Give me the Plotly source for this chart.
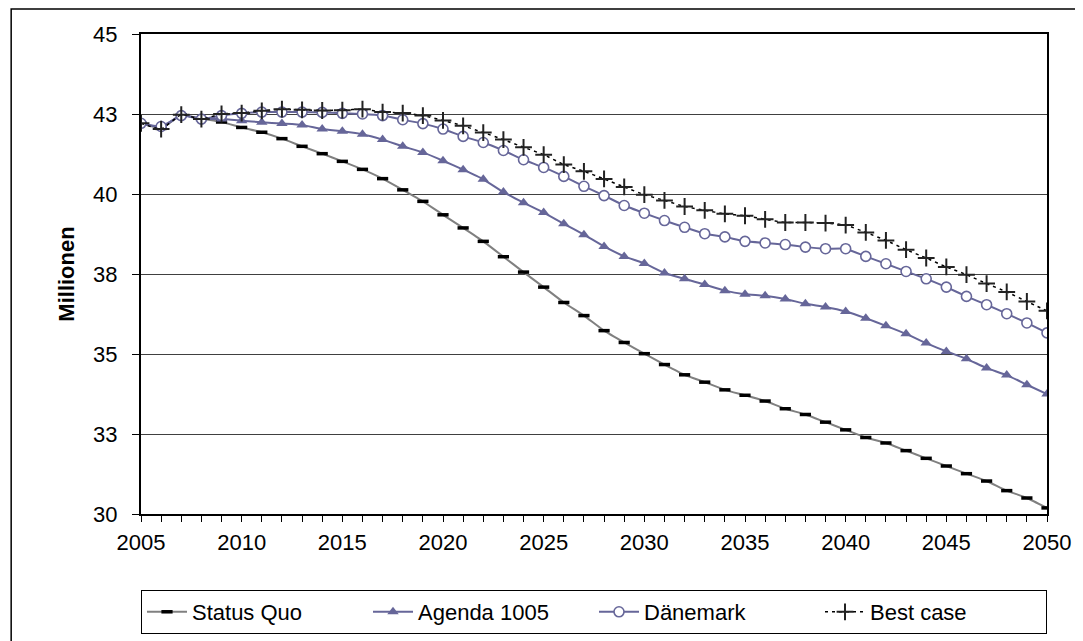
import plotly.graph_objects as go

years = list(range(2005, 2051))

status_quo = [42.21, 42.05, 42.47, 42.35, 42.25, 42.08, 41.93, 41.73, 41.49, 41.26,
              41.02, 40.77, 40.48, 40.13, 39.77, 39.35, 38.94, 38.52, 38.04, 37.56,
              37.09, 36.61, 36.20, 35.73, 35.36, 35.01, 34.67, 34.35, 34.12, 33.88,
              33.71, 33.53, 33.29, 33.11, 32.87, 32.63, 32.39, 32.22, 31.98, 31.74,
              31.50, 31.26, 31.03, 30.73, 30.50, 30.19]

agenda = [42.21, 42.08, 42.46, 42.35, 42.34, 42.29, 42.24, 42.20, 42.16, 42.03,
          41.96, 41.87, 41.70, 41.49, 41.30, 41.04, 40.76, 40.46, 40.06, 39.73,
          39.42, 39.07, 38.73, 38.36, 38.05, 37.83, 37.53, 37.35, 37.17, 36.98,
          36.87, 36.82, 36.72, 36.57, 36.47, 36.33, 36.12, 35.88, 35.63, 35.34,
          35.08, 34.85, 34.56, 34.34, 34.04, 33.75]

daenemark = [42.21, 42.11, 42.45, 42.34, 42.45, 42.52, 42.56, 42.56, 42.56, 42.55,
             42.52, 42.50, 42.45, 42.32, 42.20, 42.03, 41.80, 41.61, 41.36, 41.07,
             40.83, 40.55, 40.24, 39.95, 39.64, 39.40, 39.17, 38.96, 38.76, 38.66,
             38.52, 38.47, 38.42, 38.34, 38.29, 38.29, 38.05, 37.82, 37.58, 37.35,
             37.09, 36.80, 36.54, 36.26, 35.97, 35.66]

best_case = [42.21, 42.03, 42.48, 42.34, 42.50, 42.53, 42.60, 42.65, 42.63, 42.61,
             42.62, 42.65, 42.56, 42.53, 42.45, 42.30, 42.13, 41.92, 41.70, 41.46,
             41.23, 40.92, 40.71, 40.47, 40.22, 39.98, 39.80, 39.61, 39.49, 39.38,
             39.32, 39.21, 39.11, 39.11, 39.09, 39.03, 38.80, 38.55, 38.26, 38.00,
             37.72, 37.48, 37.20, 36.94, 36.64, 36.35]

y_tickvals = [30, 32.5, 35, 37.5, 40, 42.5, 45]
y_ticktext = ["30", "33", "35", "38", "40", "43", "45"]
x_ticktext = [str(y) if y % 5 == 0 else "" for y in years]

FONT = "Liberation Sans, Arial, sans-serif"
PURPLE = "#666699"

fig = go.Figure()
fig.add_trace(go.Scatter(
    x=years, y=status_quo, name="Status Quo", mode="lines+markers",
    line=dict(color="#808080", width=2, shape="spline", smoothing=0.4),
    marker=dict(symbol="line-ew", size=8, color="black",
                line=dict(color="black", width=3.5))))
fig.add_trace(go.Scatter(
    x=years, y=agenda, name="Agenda 1005", mode="lines+markers",
    line=dict(color=PURPLE, width=2, shape="spline", smoothing=0.4),
    marker=dict(symbol="triangle-up", size=10, color=PURPLE)))
fig.add_trace(go.Scatter(
    x=years, y=daenemark, name="Dänemark", mode="lines+markers",
    line=dict(color=PURPLE, width=2, shape="spline", smoothing=0.4),
    marker=dict(symbol="circle", size=10, color="white",
                line=dict(color=PURPLE, width=1.6))))
fig.add_trace(go.Scatter(
    x=years, y=best_case, name="Best case", mode="lines+markers",
    line=dict(color="black", width=1.5, dash="3px,4px", shape="spline", smoothing=0.4),
    marker=dict(symbol="cross-thin", size=12, color="#222222",
                line=dict(color="#222222", width=2))))

fig.update_layout(
    width=1075, height=633,
    margin=dict(l=133, r=28, t=26, b=127),
    paper_bgcolor="white", plot_bgcolor="white",
    font=dict(family=FONT, size=22, color="black"),
    showlegend=True,
    legend=dict(orientation="h", x=0.5, xanchor="center",
                yref="container", y=0.0806, yanchor="top",
                bordercolor="black", borderwidth=1, bgcolor="white",
                font=dict(size=22), itemwidth=40, entrywidth=171, tracegroupgap=0),
    shapes=[dict(type="rect", xref="paper", yref="paper",
                 x0=-0.1433, x1=1.2, y0=-0.4, y1=1.0520,
                 line=dict(color="black", width=1.5), layer="below")],
)

fig.update_xaxes(
    range=[2005, 2050], tickvals=years, ticktext=x_ticktext,
    ticks="outside", ticklen=6, tickcolor="black", tickwidth=1,
    showline=True, linecolor="black", linewidth=2, mirror=True,
    showgrid=False, zeroline=False, tickfont=dict(size=22), ticklabelstandoff=2)
fig.update_yaxes(
    range=[30, 45], tickvals=y_tickvals, ticktext=y_ticktext,
    ticks="outside", ticklen=7, tickcolor="black", tickwidth=1,
    showline=True, linecolor="black", linewidth=2, mirror=True,
    showgrid=True, gridcolor="#404040", gridwidth=1, zeroline=False,
    tickfont=dict(size=22), ticklabelstandoff=10,
    title=dict(text="<b>Millionen</b>", font=dict(size=22), standoff=12))

fig.write_html("out.html")
